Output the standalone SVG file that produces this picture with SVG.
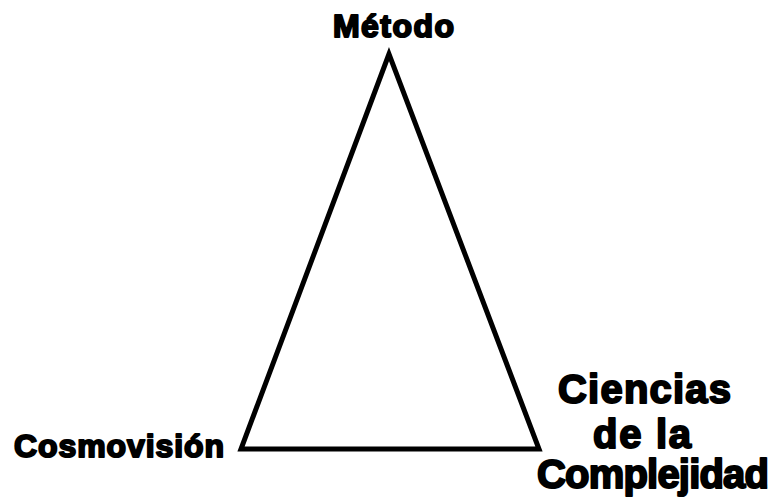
<svg xmlns="http://www.w3.org/2000/svg" width="774" height="500" viewBox="0 0 774 500">
<style>
.lbl{font-family:"Liberation Sans",Arial,sans-serif;font-weight:bold;fill:#000;stroke:#000;stroke-width:2;stroke-linejoin:round}
.s{font-size:32px}
.b{font-size:40px}
</style>
<rect width="774" height="500" fill="#fff"/>
<g id="connectors">
<polygon points="389,54 241,449 539,449" fill="none" stroke="#000" stroke-width="5" stroke-linejoin="miter"/>
</g>
<g id="metodo"><text class="lbl s" x="333" y="37" textLength="121" lengthAdjust="spacing">Método</text></g>
<g id="cosmovision"><text class="lbl s" x="14" y="457" textLength="210" lengthAdjust="spacing">Cosmovisión</text></g>
<g id="ciencias">
<text class="lbl b" x="558" y="403" textLength="173" lengthAdjust="spacing">Ciencias</text>
<text class="lbl b" x="593" y="448" textLength="98" lengthAdjust="spacing">de la</text>
<text class="lbl b" x="537" y="488" textLength="232" lengthAdjust="spacing">Complejidad</text>
</g>
</svg>
